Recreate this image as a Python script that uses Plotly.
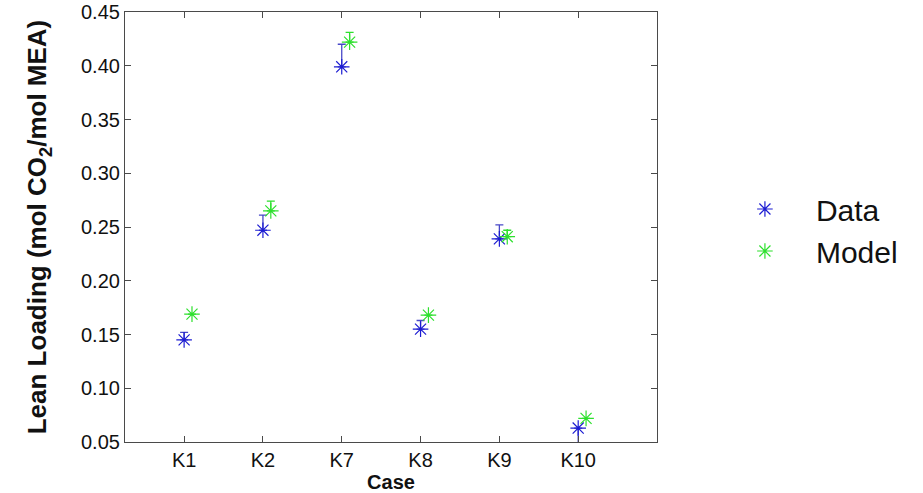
import plotly.graph_objects as go

# Lean loading per case: measured data vs. model prediction
cases = ["K1", "K2", "K7", "K8", "K9", "K10"]
data_vals = [0.145, 0.247, 0.399, 0.155, 0.239, 0.063]
data_err_up = [0.007, 0.014, 0.021, 0.008, 0.013, 0.0]
data_err_down = [0.0, 0.0, 0.0, 0.0, 0.0, 0.015]
model_vals = [0.169, 0.265, 0.422, 0.168, 0.241, 0.072]
model_err_up = [0.0, 0.009, 0.009, 0.0, 0.006, 0.0]
model_err_down = [0.0, 0.0, 0.0, 0.0, 0.0, 0.0]

# numeric positions so the model points can sit slightly right of the data
pos = list(range(1, len(cases) + 1))
model_shift = 0.1

FONT = "Liberation Sans, Arial, sans-serif"
BLUE = "#1c1cd2"
GREEN = "#2de02d"

fig = go.Figure()
fig.add_trace(go.Scatter(
    x=pos, y=data_vals, mode="markers", name="Data",
    marker=dict(symbol="asterisk-open", size=13, color=BLUE,
                line=dict(color=BLUE, width=1.2)),
    error_y=dict(type="data", symmetric=False, array=data_err_up,
                 arrayminus=data_err_down, color="#4848c8",
                 thickness=1.3, width=4),
    legendgroup="d",
))
fig.add_trace(go.Scatter(
    x=[p + model_shift for p in pos], y=model_vals, mode="markers",
    name="Model",
    marker=dict(symbol="asterisk-open", size=13, color=GREEN,
                line=dict(color=GREEN, width=1.2)),
    error_y=dict(type="data", symmetric=False, array=model_err_up,
                 arrayminus=model_err_down, color=GREEN,
                 thickness=1.3, width=4),
    legendgroup="m",
))

axis_common = dict(
    showline=True, linecolor="#4a4a4a", linewidth=1.2,
    mirror="ticks", ticks="inside", ticklen=6, tickcolor="#4a4a4a",
    showgrid=False, zeroline=False, automargin=False,
    tickfont=dict(family=FONT, size=20, color="#111"),
)

fig.update_layout(
    width=923, height=493,
    margin=dict(l=125, r=266, t=12, b=51),
    paper_bgcolor="white", plot_bgcolor="white",
    xaxis=dict(
        range=[0.25, 7.0], tickmode="array", tickvals=pos, ticktext=cases,
        title=dict(text="Case", standoff=2,
                   font=dict(family=FONT, size=20, color="#111", weight="bold")),
        **axis_common,
    ),
    yaxis=dict(
        range=[0.05, 0.45], dtick=0.05, tick0=0.05, tickformat=".2f",
        title=dict(text="Lean Loading (mol CO<sub>2</sub>/mol MEA)", standoff=26,
                   font=dict(family=FONT, size=26, color="#111", weight="bold")),
        **axis_common,
    ),
    legend=dict(
        x=1.107, y=0.493, xanchor="left", yanchor="middle",
        font=dict(family=FONT, size=30, color="#111"),
        bgcolor="rgba(0,0,0,0)", tracegroupgap=0, itemwidth=92,
    ),
    showlegend=True,
)

fig.write_html("out.html")
